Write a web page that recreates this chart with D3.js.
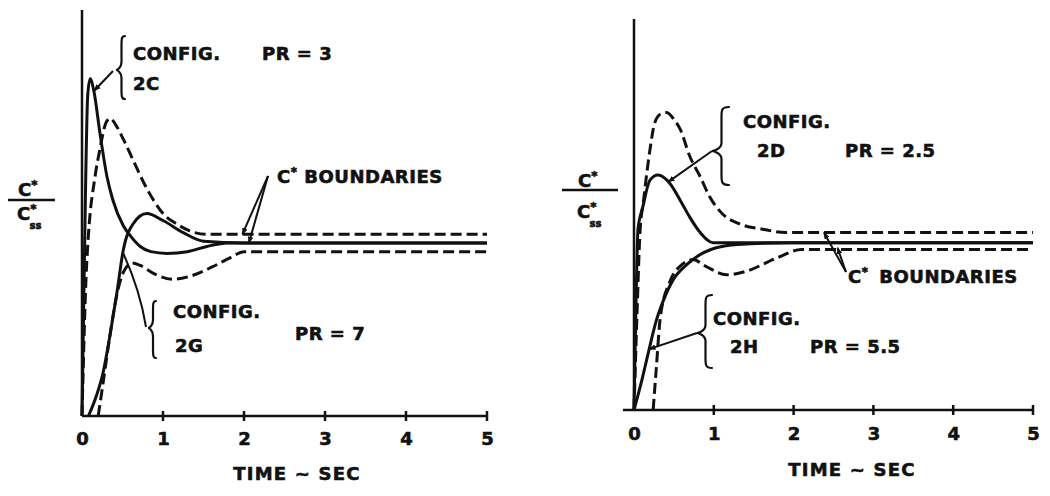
<!DOCTYPE html>
<html><head><meta charset="utf-8">
<script src="https://cdn.jsdelivr.net/npm/d3@7"></script>
<style>
body{margin:0;background:#fff;}
text{font-family:"DejaVu Sans",sans-serif;font-weight:bold;fill:#111;stroke:#111;stroke-width:0.6px;}
</style></head>
<body><svg id="c" width="1050" height="496"></svg>
<script>
// ---- data: [time (sec), C*/C*ss] ----
const timeTicks = [0, 1, 2, 3, 4, 5];
// Left panel
const leftUpperBound = [[0,0],[0.05,0.8],[0.08,1.05],[0.16,1.38],[0.22,1.54],[0.3,1.7],[0.35,1.72],[0.42,1.68],[0.51,1.6],[0.63,1.48],[0.75,1.36],[0.88,1.25],[1.0,1.17],[1.17,1.11],[1.33,1.07],[1.54,1.05],[5,1.05]];
const leftLowerBound = [[0.2,0],[0.26,0.19],[0.35,0.48],[0.43,0.7],[0.51,0.83],[0.62,0.885],[0.72,0.87],[0.9,0.82],[1.12,0.79],[1.35,0.81],[1.6,0.86],[1.85,0.92],[2.0,0.95],[5,0.95]];
const config2C = [[0,0],[0.02,0.6],[0.045,1.35],[0.07,1.85],[0.1,1.95],[0.15,1.87],[0.22,1.64],[0.31,1.38],[0.38,1.25],[0.51,1.1],[0.6,1.04],[0.72,0.98],[0.85,0.95],[1.05,0.94],[1.3,0.95],[1.54,0.98],[1.8,1.0],[5,1.0]];
const config2G = [[0.08,0],[0.18,0.12],[0.26,0.25],[0.35,0.48],[0.43,0.71],[0.51,0.96],[0.63,1.11],[0.8,1.17],[1.0,1.13],[1.25,1.06],[1.5,1.01],[2,1.0],[5,1.0]];
// Right panel
const rightUpperBound = [[0,0],[0.04,0.6],[0.075,1.05],[0.12,1.24],[0.16,1.4],[0.2,1.54],[0.26,1.7],[0.33,1.75],[0.41,1.76],[0.5,1.72],[0.58,1.66],[0.7,1.5],[0.83,1.38],[0.95,1.26],[1.11,1.16],[1.33,1.1],[1.61,1.07],[1.9,1.05],[5,1.05]];
const rightLowerBound = [[0.24,0],[0.28,0.25],[0.33,0.55],[0.45,0.76],[0.6,0.86],[0.74,0.89],[0.9,0.85],[1.16,0.8],[1.4,0.82],[1.79,0.9],[2.1,0.95],[5,0.95]];
const config2D = [[0,0],[0.02,0.5],[0.05,1.07],[0.11,1.2],[0.2,1.36],[0.3,1.39],[0.45,1.34],[0.58,1.24],[0.7,1.14],[0.83,1.05],[0.99,0.99],[1.5,0.99],[5,0.99]];
const config2H = [[0,0],[0.1,0.18],[0.18,0.34],[0.28,0.53],[0.37,0.65],[0.49,0.77],[0.66,0.86],[0.83,0.92],[1.03,0.96],[1.3,0.98],[2,0.99],[5,0.99]];

const svg = d3.select("#c");
const defs = svg.append("defs");
defs.append("marker").attr("id","ah").attr("viewBox","0 0 10 10").attr("refX",9).attr("refY",5)
  .attr("markerWidth",7).attr("markerHeight",7).attr("markerUnits","userSpaceOnUse").attr("orient","auto")
  .append("path").attr("d","M0,1 L10,5 L0,9 z").attr("fill","#111");

function brace(g, xr, yTop, yBot, xTip, yTip){
  const xm = (xr + xTip)/2 + 1;
  const d = `M${xr},${yTop} C${xm},${yTop} ${xm},${yTop+3} ${xm},${yTop+10} L${xm},${yTip-8} C${xm},${yTip-2} ${xTip+1},${yTip} ${xTip},${yTip} C${xTip+1},${yTip} ${xm},${yTip+2} ${xm},${yTip+8} L${xm},${yBot-10} C${xm},${yBot-3} ${xm},${yBot} ${xr},${yBot}`;
  g.append("path").attr("d",d).attr("fill","none").attr("stroke","#111").attr("stroke-width",2.2).attr("stroke-linecap","round");
}
function arrow(g, x1,y1,x2,y2, head){
  const l = g.append("line").attr("x1",x1).attr("y1",y1).attr("x2",x2).attr("y2",y2)
    .attr("stroke","#111").attr("stroke-width",2);
  if(head) l.attr("marker-end","url(#ah)");
}
function txt(g, x, y, opts={}){
  return g.append("text").attr("x",x).attr("y",y).attr("font-size",opts.size||18)
    .attr("letter-spacing",opts.ls==null?0.5:opts.ls).attr("text-anchor",opts.anchor||"start");
}
function cstar(g, x, y, sub){
  const t = g.append("text").attr("x",x).attr("y",y).attr("font-size",18).attr("text-anchor","start");
  t.append("tspan").text("C");
  t.append("tspan").attr("font-size",12).attr("dy",-7).text("*");
  if(sub){ t.append("tspan").attr("font-size",10).attr("dx",-7).attr("dy",16).text("ss"); }
  return t;
}

function panel(cfg){
  const x = d3.scaleLinear().domain([0,5]).range([cfg.x0, cfg.x5]);
  const y = d3.scaleLinear().domain([0,1]).range([cfg.y0, cfg.y1]);
  const g = svg.append("g");
  const line = d3.line().x(d=>x(d[0])).y(d=>y(d[1])).curve(d3.curveMonotoneX);
  g.append("line").attr("x1",cfg.x0).attr("x2",cfg.x0).attr("y1",cfg.yTop).attr("y2",cfg.y0)
    .attr("stroke","#111").attr("stroke-width",2.5);
  const xa = d3.axisBottom(x).tickValues(timeTicks).tickSize(0).tickFormat(d3.format("d"));
  const ag = g.append("g").attr("transform",`translate(0,${cfg.y0})`).call(xa);
  ag.select(".domain").remove();
  ag.selectAll("text").attr("font-size",18).attr("dy",null).attr("y",cfg.tickBase-cfg.y0)
    .attr("fill","#111").attr("font-family","DejaVu Sans").attr("font-weight","bold");
  g.append("line").attr("x1",cfg.axStart).attr("x2",x(5)).attr("y1",cfg.y0).attr("y2",cfg.y0)
    .attr("stroke","#111").attr("stroke-width",2.5);
  timeTicks.forEach(t=>{
    if(t===0) return;
    g.append("line").attr("x1",x(t)).attr("x2",x(t)).attr("y1",cfg.y0-5).attr("y2",cfg.y0+5)
      .attr("stroke","#111").attr("stroke-width",2.5);
  });
  [cfg.upper, cfg.lower].forEach(d=>{
    g.append("path").attr("d",line(d)).attr("fill","none").attr("stroke","#111")
      .attr("stroke-width",3).attr("stroke-dasharray","11,5");
  });
  cfg.solids.forEach(d=>{
    g.append("path").attr("d",line(d)).attr("fill","none").attr("stroke","#111")
      .attr("stroke-width",3).attr("stroke-linejoin","round");
  });
  txt(g, cfg.titleX, cfg.titleY).attr("text-anchor","middle").attr("letter-spacing",1.2).text("TIME ~ SEC");
  return {g,x,y};
}

// ---------- LEFT ----------
const L = panel({x0:82,x5:487,y0:416,y1:243,yTop:10,axStart:82,tickBase:445,
  upper:leftUpperBound,lower:leftLowerBound,solids:[config2C,config2G],titleX:297,titleY:480});
{
  const g=L.g, x=L.x, y=L.y;
  cstar(g,18,196,false);
  g.append("line").attr("x1",8).attr("x2",55).attr("y1",200).attr("y2",200).attr("stroke","#111").attr("stroke-width",2.5);
  cstar(g,17,220,true);
  brace(g,125,36,99,116,70);
  arrow(g,113,71,x(0.15),y(1.88),true);
  txt(g,133,60).text("CONFIG.");
  txt(g,133,90).text("2C");
  txt(g,262,60).text("PR = 3");
  const cb = txt(g,277,183); cb.append("tspan").text("C"); cb.append("tspan").attr("font-size",12).attr("dy",-7).text("*");
  cb.append("tspan").attr("dy",7).text(" BOUNDARIES");
  arrow(g,268,176,x(1.98),y(1.05),true);
  arrow(g,268,176,x(2.06),y(1.0),true);
  brace(g,156,301,358,148,328);
  g.append("path").attr("d",`M146,327 Q140,290 ${x(0.51)},${y(0.94)}`).attr("fill","none").attr("stroke","#111").attr("stroke-width",2);
  txt(g,173,318).text("CONFIG.");
  txt(g,175,352).text("2G");
  txt(g,295,340).text("PR = 7");
}

// ---------- RIGHT ----------
const R = panel({x0:634,x5:1033,y0:410,y1:241,yTop:19,axStart:623,tickBase:440,
  upper:rightUpperBound,lower:rightLowerBound,solids:[config2D,config2H],titleX:852,titleY:476});
{
  const g=R.g, x=R.x, y=R.y;
  cstar(g,578,187,false);
  g.append("line").attr("x1",562).attr("x2",618).attr("y1",190).attr("y2",190).attr("stroke","#111").attr("stroke-width",2.5);
  cstar(g,577,218,true);
  brace(g,729,107,185,712,151);
  arrow(g,712,151,x(0.43),y(1.35),true);
  txt(g,743,128).text("CONFIG.");
  txt(g,757,157).text("2D");
  txt(g,845,157).text("PR = 2.5");
  const cb = txt(g,848,283); cb.append("tspan").text("C"); cb.append("tspan").attr("font-size",12).attr("dy",-7).text("*");
  cb.append("tspan").attr("dy",7).attr("dx",4).text(" BOUNDARIES");
  arrow(g,846,272,x(2.38),y(1.05),true);
  arrow(g,846,272,x(2.55),y(0.96),true);
  brace(g,712,295,368,697,333);
  arrow(g,697,333,x(0.19),y(0.36),true);
  txt(g,713,325).text("CONFIG.");
  txt(g,730,353).text("2H");
  txt(g,810,353).text("PR = 5.5");
}
</script></body></html>
